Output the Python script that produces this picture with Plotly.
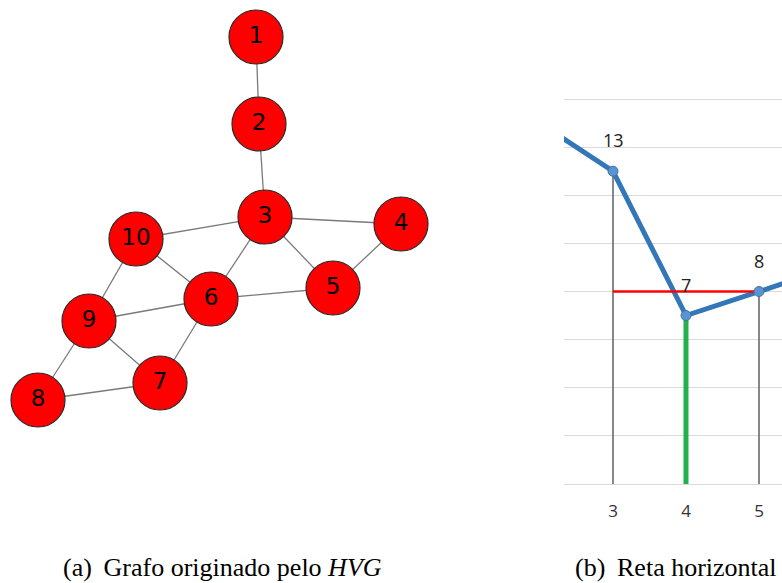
import plotly.graph_objects as go

# ---- (a) HVG graph: node layout positions and edges ----
node_ids = [1, 2, 3, 4, 5, 6, 7, 8, 9, 10]
node_x = [256, 259, 265, 401, 333, 211, 160, 38, 89, 136]
node_y = [37, 124, 217, 224, 288, 299, 383, 400, 321, 239]
edges = [(1, 2), (2, 3), (3, 10), (3, 4), (3, 6), (3, 5), (4, 5), (10, 6),
         (10, 9), (6, 9), (6, 5), (6, 7), (9, 7), (9, 8), (8, 7)]

# ---- (b) series segment around the horizontal line ----
series_x = [2, 3, 4, 5, 6]
series_y = [15, 13, 7, 8, 9]
labelled_x = [3, 4, 5]
labelled_y = [13, 7, 8]
horiz_x = [3, 5]
horiz_y = [8, 8]
green_x = [4]
green_y = [7]
grey_x = [3, 5]
grey_y = [13, 8]
tick_vals = [3, 4, 5]

captions = ["(a)\u2009 Grafo originado pelo <i>HVG</i>", "(b)\u2009 Reta horizontal"]

W, H = 782, 583
fig = go.Figure()

# edges
pos = {n: (x, y) for n, x, y in zip(node_ids, node_x, node_y)}
ex, ey = [], []
for a, b in edges:
    ex += [pos[a][0], pos[b][0], None]
    ey += [pos[a][1], pos[b][1], None]
fig.add_trace(go.Scatter(x=ex, y=ey, mode="lines", xaxis="x", yaxis="y",
                         line=dict(color="#7a7a7a", width=1.3),
                         hoverinfo="skip", showlegend=False))
# nodes
fig.add_trace(go.Scatter(x=node_x, y=node_y, mode="markers+text", xaxis="x", yaxis="y",
                         text=[str(n) for n in node_ids], textposition="middle center",
                         textfont=dict(family="DejaVu Sans", size=23, color="black"),
                         marker=dict(size=54, color="#ff0000",
                                     line=dict(color="#2a2a2a", width=1.2)),
                         showlegend=False, cliponaxis=False))

# grey verticals from the points down to the axis
for gx, gy in zip(grey_x, grey_y):
    fig.add_trace(go.Scatter(x=[gx, gx], y=[0, gy], mode="lines", xaxis="x2", yaxis="y2",
                             line=dict(color="#555555", width=1.4),
                             hoverinfo="skip", showlegend=False))
# green vertical
for gx, gy in zip(green_x, green_y):
    fig.add_trace(go.Scatter(x=[gx, gx], y=[0, gy], mode="lines", xaxis="x2", yaxis="y2",
                             line=dict(color="#22b14c", width=5),
                             hoverinfo="skip", showlegend=False))
# series line
fig.add_trace(go.Scatter(x=series_x, y=series_y, mode="lines", xaxis="x2", yaxis="y2",
                         line=dict(color="#3477b8", width=5),
                         hoverinfo="skip", showlegend=False))
# horizontal line
fig.add_trace(go.Scatter(x=horiz_x, y=horiz_y, mode="lines", xaxis="x2", yaxis="y2",
                         line=dict(color="#ff0000", width=2.6),
                         hoverinfo="skip", showlegend=False))
# markers
fig.add_trace(go.Scatter(x=series_x, y=series_y, mode="markers", xaxis="x2", yaxis="y2",
                         marker=dict(size=10, color="#5b93d0",
                                     line=dict(color="#3f72ad", width=1)),
                         hoverinfo="skip", showlegend=False))

annotations = []
for lx, ly in zip(labelled_x, labelled_y):
    annotations.append(dict(x=lx, y=ly, xref="x2", yref="y2", text=str(ly),
                            showarrow=False, yshift=31,
                            font=dict(family="Open Sans", size=18, color="#222222")))

annotations.append(dict(x=222 / W, y=0, xref="paper", yref="paper",
                        text=captions[0], showarrow=False, xanchor="center", yanchor="bottom",
                        borderpad=0,
                        font=dict(family="Liberation Serif", size=26, color="black")))
annotations.append(dict(x=574 / W, y=0, xref="paper", yref="paper",
                        text=captions[1], showarrow=False, xanchor="left", yanchor="bottom",
                        borderpad=0,
                        font=dict(family="Liberation Serif", size=26, color="black")))

# pixel scale of the chart panel
px_unit_x = 73.0
px_unit_y = 385.0 / 16
x_left_px, x_right_px = 564, W
y0_px = 484
ypad = 0.3
x2_range = [3 - (613 - x_left_px) / px_unit_x, 3 + (x_right_px - 613) / px_unit_x]
y_bottom_px = y0_px + ypad * px_unit_y
y_top_px = y0_px - (16 + ypad) * px_unit_y

fig.update_layout(
    width=W, height=H,
    margin=dict(l=0, r=0, t=0, b=0),
    paper_bgcolor="white", plot_bgcolor="white",
    xaxis=dict(domain=[0, 0.6], range=[0, 0.6 * W], visible=False, fixedrange=True),
    yaxis=dict(domain=[0, 1], range=[H, 0], visible=False, fixedrange=True),
    xaxis2=dict(domain=[x_left_px / W, 1], range=x2_range, anchor="y2",
                tickvals=tick_vals, ticks="", showgrid=False, zeroline=False,
                showline=False, ticklabelstandoff=8,
                tickfont=dict(family="Open Sans", size=17, color="#333333")),
    yaxis2=dict(domain=[(H - y_bottom_px) / H, (H - y_top_px) / H],
                range=[-ypad, 16 + ypad], anchor="x2", dtick=2, tick0=0,
                showgrid=True, gridcolor="#d9d9d9", gridwidth=1.3,
                zeroline=False, showticklabels=False, showline=False),
    annotations=annotations,
    showlegend=False,
)

fig.write_html("out.html")
